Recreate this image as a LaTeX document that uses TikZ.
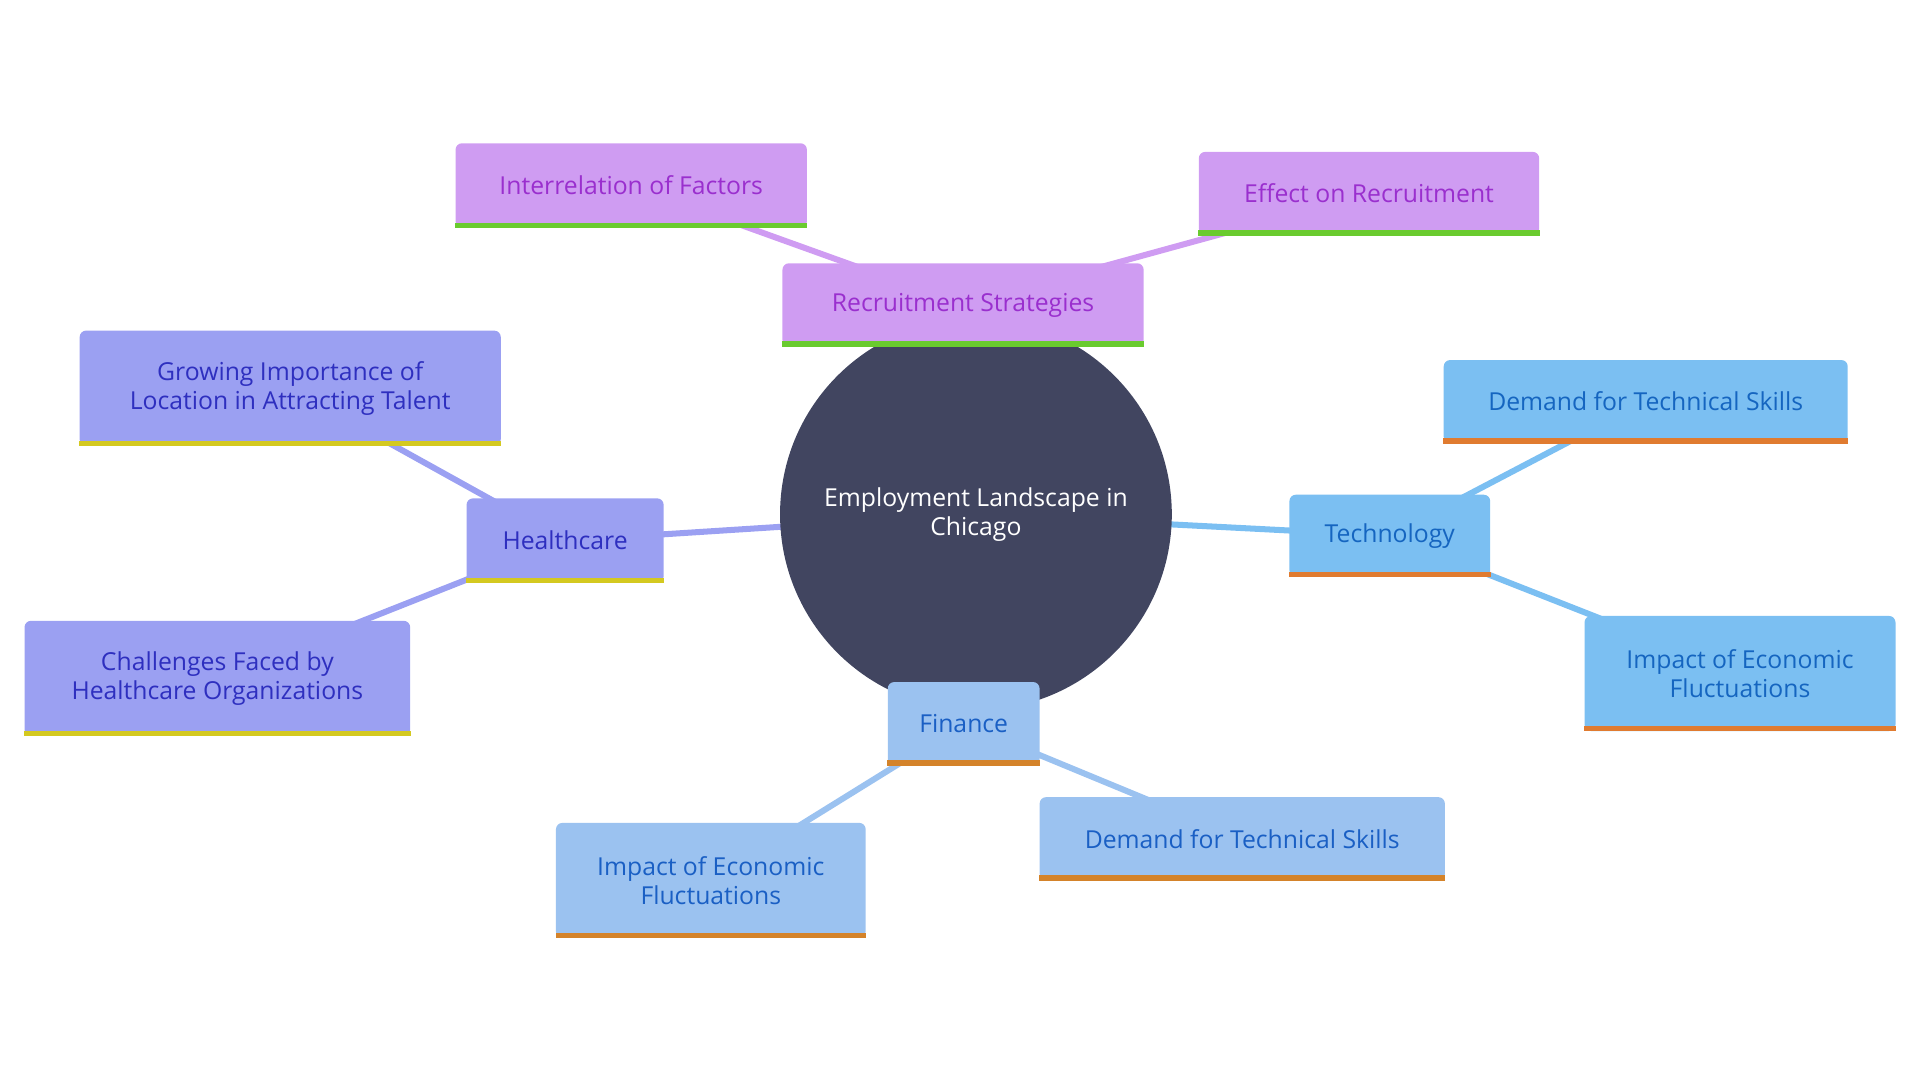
\documentclass[tikz,border=0pt]{standalone}
\usepackage{fontspec}
\setmainfont{Open Sans}
\usetikzlibrary{backgrounds}
\definecolor{cc}{HTML}{414560}
\definecolor{pf}{HTML}{CF9CF2}\definecolor{pt}{HTML}{9A2FCE}\definecolor{pb}{HTML}{6ACB2F}
\definecolor{hf}{HTML}{9BA0F2}\definecolor{ht}{HTML}{2E2FBF}\definecolor{hb}{HTML}{D4C920}
\definecolor{tf}{HTML}{7BBFF2}\definecolor{tt}{HTML}{1565C0}\definecolor{tb}{HTML}{E07B30}
\definecolor{ff}{HTML}{9BC2F0}\definecolor{ft}{HTML}{1A5FC4}\definecolor{fb}{HTML}{D4832A}
\tikzset{box/.style={rectangle,rounded corners=3pt,inner sep=0pt,align=center,font=\fontsize{11.5}{13.5}\selectfont},
 edge/.style={line width=2.8pt}}
\newcommand{\bx}[8]{\node[box,fill=#5,text=#6,minimum width=#3cm,minimum height=#4cm] (#1) at (#2) {#8};
 \fill[#7] (#1.south west) rectangle ([yshift=0.09cm]#1.south east);}
\begin{document}
\begin{tikzpicture}[x=0.02cm,y=-0.02cm]
\useasboundingbox (0,0) rectangle (1568,882);
\node[circle,fill=cc,minimum size=6.4cm,text=white,align=center,font=\fontsize{11.5}{13.5}\selectfont] (c) at (797,420) {Employment Landscape in\\Chicago};
\bx{rs}{786.5,249}{5.9}{1.36}{pf}{pt}{pb}{Recruitment Strategies}
\bx{ir}{515.5,151.5}{5.74}{1.38}{pf}{pt}{pb}{Interrelation of Factors}
\bx{er}{1118,158}{5.56}{1.36}{pf}{pt}{pb}{Effect on Recruitment}
\bx{hc}{461.5,441.5}{3.22}{1.38}{hf}{ht}{hb}{Healthcare}
\bx{gi}{237,317}{6.88}{1.88}{hf}{ht}{hb}{Growing Importance of\\Location in Attracting Talent}
\bx{ch}{177.5,554}{6.3}{1.88}{hf}{ht}{hb}{Challenges Faced by\\Healthcare Organizations}
\bx{te}{1135,437.5}{3.28}{1.34}{tf}{tt}{tb}{Technology}
\bx{dt}{1344,328}{6.6}{1.36}{tf}{tt}{tb}{Demand for Technical Skills}
\bx{it}{1421,550}{5.08}{1.88}{tf}{tt}{tb}{Impact of Economic\\Fluctuations}
\bx{fi}{787,591}{2.48}{1.36}{ff}{ft}{fb}{Finance}
\bx{ifn}{580.5,719}{5.06}{1.88}{ff}{ft}{fb}{Impact of Economic\\Fluctuations}
\bx{df}{1014.5,685}{6.62}{1.36}{ff}{ft}{fb}{Demand for Technical Skills}
\begin{pgfonlayer}{background}
\draw[edge,pf] (c.center)--(rs.center) (rs.center)--(ir.center) (rs.center)--(er.center);
\draw[edge,hf] (c.center)--(hc.center) (hc.center)--(gi.center) (hc.center)--(ch.center);
\draw[edge,tf] (c.center)--(te.center) (te.center)--(dt.center) (te.center)--(it.center);
\draw[edge,ff] (c.center)--(fi.center) (fi.center)--(ifn.center) (fi.center)--(df.center);
\end{pgfonlayer}
\end{tikzpicture}
\end{document}
